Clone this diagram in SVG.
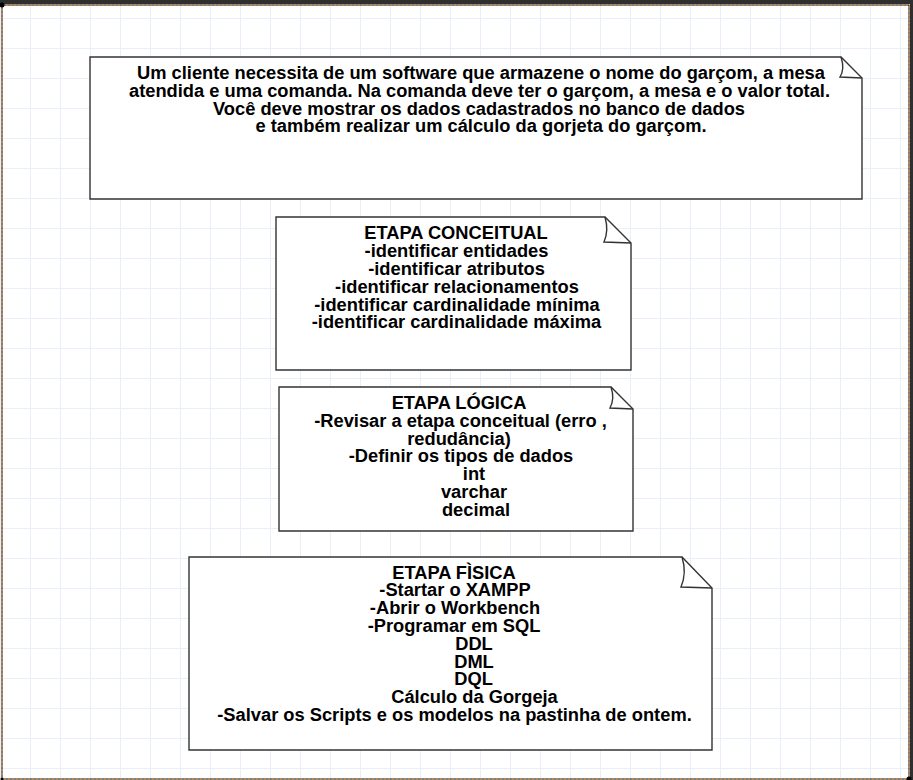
<svg xmlns="http://www.w3.org/2000/svg" width="913" height="780" viewBox="0 0 913 780">
<defs>
<pattern id="grid" x="0" y="18" width="30" height="30" patternUnits="userSpaceOnUse">
<path d="M0.5,0 V30 M0,0.5 H30" fill="none" stroke="#e8eff8" stroke-width="1"/>
</pattern>
</defs>
<style>
.note{fill:#ffffff;stroke:#333333;stroke-width:1.4;stroke-linejoin:miter}
.fold{fill:none;stroke:#333333;stroke-width:1.4}
.t{font-family:"Liberation Sans",Arial,Helvetica,sans-serif;font-size:18.3px;font-weight:bold;fill:#000000;text-anchor:middle}
</style>
<rect x="0" y="0" width="913" height="780" fill="#ffffff"/>
<rect x="0" y="0" width="913" height="780" fill="url(#grid)"/>
<rect x="0" y="0" width="913" height="4" fill="#2f2f2f"/>
<rect x="910" y="0" width="3" height="780" fill="#2f2f2f"/>
<g id="frame">
<rect x="2" y="5" width="907" height="774" fill="none" stroke="#000000" stroke-width="1"/>
<rect x="2" y="5" width="907" height="774" fill="none" stroke="#f0903a" stroke-width="1" stroke-dasharray="2 2"/>
<circle cx="2" cy="5" r="2.5" fill="#000000"/>
<circle cx="909" cy="779" r="2.5" fill="#000000"/>
<circle cx="2" cy="779" r="1.5" fill="#000000"/>
</g>
<g id="connectors"></g>
<g id="note-enunciado">
<path class="note" d="M90,57 H841 L862,78 V199 H90 Z"/>
<path class="fold" d="M841,57 Q845,69 840,77 L862,78"/>
<text class="t" x="481" y="79">Um cliente necessita de um software que armazene o nome do garçom, a mesa</text>
<text class="t" x="479.5" y="96.8">atendida e uma comanda. Na comanda deve ter o garçom, a mesa e o valor total.</text>
<text class="t" x="479" y="114.6">Você deve mostrar os dados cadastrados no banco de dados</text>
<text class="t" x="481" y="132.4">e também realizar um cálculo da gorjeta do garçom.</text>
</g>
<g id="note-conceitual">
<path class="note" d="M276,217 H605 L631,243 V370 H276 Z"/>
<path class="fold" d="M605,217 Q609,231 604,242 L631,243"/>
<text class="t" x="456" y="239">ETAPA CONCEITUAL</text>
<text class="t" x="456.5" y="257">-identificar entidades</text>
<text class="t" x="456.5" y="275">-identificar atributos</text>
<text class="t" x="457" y="292.8">-identificar relacionamentos</text>
<text class="t" x="457" y="310.6">-identificar cardinalidade mínima</text>
<text class="t" x="456.5" y="328.4">-identificar cardinalidade máxima</text>
</g>
<g id="note-logica">
<path class="note" d="M279,387 H611 L633,409 V531 H279 Z"/>
<path class="fold" d="M611,387 Q615,399 610,408 L633,409"/>
<text class="t" x="459" y="409">ETAPA LÓGICA</text>
<text class="t" x="460.5" y="426.8">-Revisar a etapa conceitual (erro ,</text>
<text class="t" x="459" y="444.6">redudância)</text>
<text class="t" x="461" y="462.4">-Definir os tipos de dados</text>
<text class="t" x="474" y="480.2">int</text>
<text class="t" x="474" y="498">varchar</text>
<text class="t" x="476" y="515.8">decimal</text>
</g>
<g id="note-fisica">
<path class="note" d="M189,557 H682 L712,588 V750 H189 Z"/>
<path class="fold" d="M682,557 Q687,573 681,587 L712,588"/>
<text class="t" x="454" y="578.5">ETAPA FÌSICA</text>
<text class="t" x="455" y="596.3">-Startar o XAMPP</text>
<text class="t" x="455" y="614.1">-Abrir o Workbench</text>
<text class="t" x="454" y="631.9">-Programar em SQL</text>
<text class="t" x="474" y="649.7">DDL</text>
<text class="t" x="474" y="667.5">DML</text>
<text class="t" x="473.5" y="685.3">DQL</text>
<text class="t" x="474.5" y="703.1">Cálculo da Gorgeja</text>
<text class="t" x="454.5" y="720.9">-Salvar os Scripts e os modelos na pastinha de ontem.</text>
</g>
</svg>
